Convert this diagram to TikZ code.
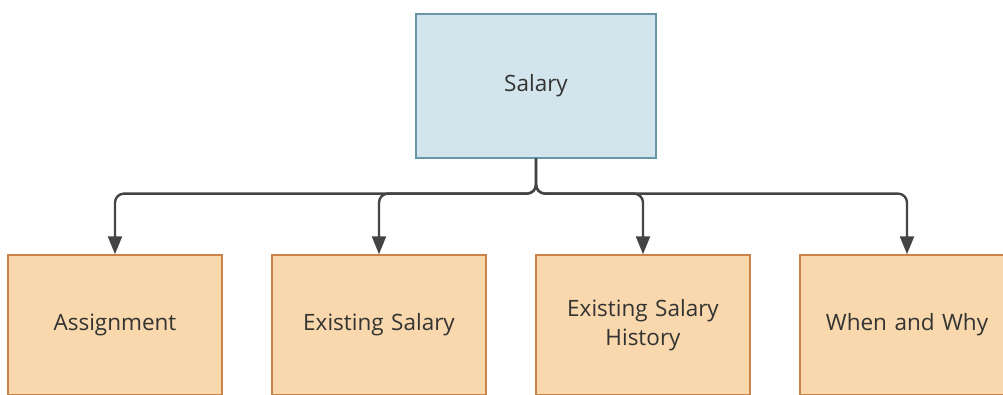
\documentclass[tikz,border=0pt]{standalone}
\usepackage{fontspec}
\setmainfont{Open Sans}
\usepackage{tikz}
\usetikzlibrary{arrows.meta}
\usetikzlibrary{positioning}
\definecolor{topfill}{RGB}{211,229,236}
\definecolor{topline}{RGB}{104,152,168}
\definecolor{subfill}{RGB}{248,216,172}
\definecolor{subline}{RGB}{201,132,74}
\definecolor{conncol}{RGB}{68,68,68}
\definecolor{txtcol}{RGB}{51,51,51}
\tikzstyle{topblock} = [rectangle, draw=topline, fill=topfill, line width=1.2pt,
text width=220pt, text centered, minimum width=240pt, minimum height=144pt, text=txtcol]
\tikzstyle{subblock} = [rectangle, draw=subline, fill=subfill, line width=1.5pt,
text width=200pt, text centered, minimum width=214pt, minimum height=140pt, text=txtcol]
\tikzstyle{line} = [draw=conncol, line width=2.4pt, rounded corners=9pt, -{Triangle[length=18pt,width=14pt]}]

\begin{document}
\begin{tikzpicture}[x=1pt, y=1pt, node distance = 48.5pt, font=\fontsize{22.5}{29}\selectfont]
	\useasboundingbox (0,0) rectangle (1003,-394);
	
	\node [topblock] at (536,-86) (salary) {Salary};
	\node [subblock] at (115,-325) (assign) {Assignment};
	\node [subblock, right=of assign] (exsal) {Existing Salary};
	\node [subblock, right=of exsal] (exhist) {Existing Salary\\History};
	\node [subblock, right=of exhist] (whenwhy) {When and Why};
	
	% Draw edges
	\path [line] (salary.south) -- ++(0,-35) -| (assign.north);
	\path [line] (salary.south) -- ++(0,-35) -| (exsal.north);
	\path [line] (salary.south) -- ++(0,-35) -| (exhist.north);
	\path [line] (salary.south) -- ++(0,-35) -| (whenwhy.north);
	
\end{tikzpicture}
\end{document}
